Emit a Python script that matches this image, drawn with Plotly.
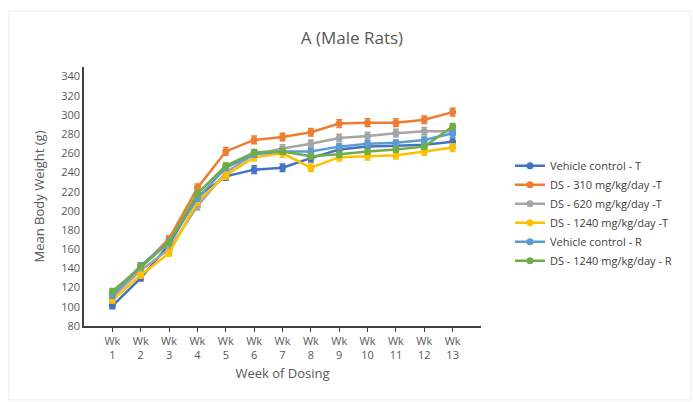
import plotly.graph_objects as go

weeks = ["Wk<br>1", "Wk<br>2", "Wk<br>3", "Wk<br>4", "Wk<br>5", "Wk<br>6", "Wk<br>7",
         "Wk<br>8", "Wk<br>9", "Wk<br>10", "Wk<br>11", "Wk<br>12", "Wk<br>13"]

vehicle_t = [101, 130, 165, 215, 236, 243, 245, 255, 264, 267, 268, 269, 272]
ds310_t = [113, 141, 171, 224, 262, 274, 277, 282, 291, 292, 292, 295, 303]
ds620_t = [110, 138, 160, 205, 240, 259, 265, 270, 276, 278, 281, 283, 283]
ds1240_t = [107, 133, 156, 210, 237, 256, 260, 245, 256, 257, 258, 262, 266]
vehicle_r = [112, 143, 168, 213, 245, 259, 262, 262, 267, 270, 271, 274, 281]
ds1240_r = [116, 142, 167, 218, 247, 261, 262, 257, 259, 262, 264, 267, 288]

err_t = [3, 3, 3, 4, 4, 4, 4, 4, 4, 4, 4, 4, 4]
err_r = [3, 3, 3, 3, 3, 3, 3, 3, 3, 3, 3, 3, 3]

series = [
    ("Vehicle control - T", vehicle_t, "#4472C4", err_t),
    ("DS - 310 mg/kg/day -T", ds310_t, "#ED7D31", err_t),
    ("DS - 620 mg/kg/day -T", ds620_t, "#A5A5A5", err_t),
    ("DS - 1240 mg/kg/day -T", ds1240_t, "#FFC000", err_t),
    ("Vehicle control - R", vehicle_r, "#5B9BD5", err_r),
    ("DS - 1240 mg/kg/day - R", ds1240_r, "#70AD47", err_r),
]

idx = list(range(len(weeks)))

fig = go.Figure()
for name, vals, color, err in series:
    fig.add_trace(go.Scatter(
        x=idx, y=vals, name=name, mode="lines+markers",
        line=dict(color=color, width=2.5),
        marker=dict(color=color, size=7, symbol="circle"),
        error_y=dict(type="data", array=err, visible=True, color=color,
                     thickness=1.5, width=3),
    ))

fig.update_layout(
    width=693, height=402,
    margin=dict(l=84, r=212, t=67, b=76),
    paper_bgcolor="white", plot_bgcolor="white",
    font=dict(family="Open Sans, Liberation Sans, sans-serif", color="#595959", size=11),
    title=dict(text="A (Male Rats)", x=(352) / 693, xanchor="center",
               y=1 - 38 / 402, yanchor="middle",
               font=dict(size=17, color="#595959")),
    showlegend=True,
    legend=dict(x=1.073, y=0.675, xanchor="left", yanchor="top",
                font=dict(size=11, color="#404040"),
                tracegroupgap=0, itemwidth=30, bgcolor="rgba(0,0,0,0)"),
)

fig.update_xaxes(
    range=[-1, 13], tickmode="array", tickvals=idx, ticktext=weeks,
    showline=True, linecolor="#404040", linewidth=1.5,
    ticks="outside", ticklen=4, tickcolor="#404040", tickwidth=1.2,
    showgrid=False, zeroline=False,
    tickfont=dict(size=11, color="#595959"),
    title=dict(text="Week of Dosing", font=dict(size=13, color="#595959"), standoff=8),
)
fig.update_yaxes(
    range=[80, 350], tickmode="array", tickvals=list(range(80, 341, 20)),
    showline=True, linecolor="#404040", linewidth=1.5,
    ticks="", showgrid=False, zeroline=False,
    tickfont=dict(size=11, color="#595959"),
    title=dict(text="Mean Body Weight (g)", font=dict(size=13, color="#595959"), standoff=14),
)

fig.add_shape(type="rect", xref="paper", yref="paper",
              x0=(9 - 84) / 397, x1=(691 - 84) / 397,
              y0=(326 - 400) / 259, y1=(326 - 11) / 259,
              line=dict(color="#EBEBEB", width=1), fillcolor="rgba(0,0,0,0)", layer="below")

fig.write_html("out.html")
